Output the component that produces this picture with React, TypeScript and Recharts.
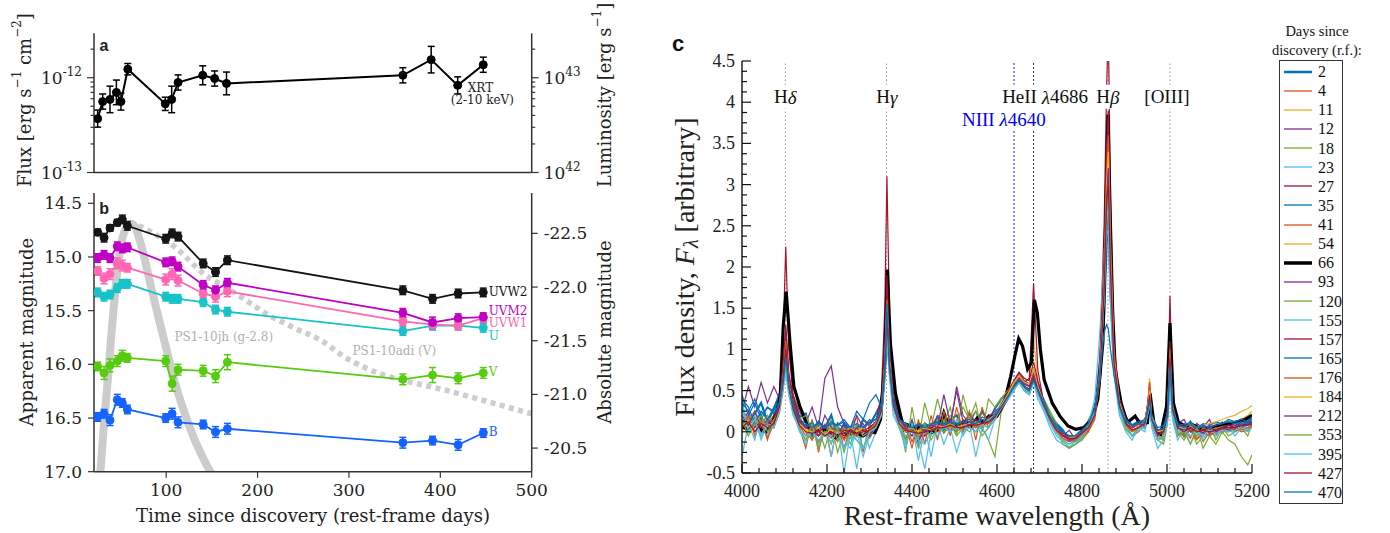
import React from 'react';
import { LineChart, Line, XAxis, YAxis, ErrorBar, ReferenceLine, ReferenceDot, Legend } from 'recharts';

// ---------------- shared styles ----------------
const AX = '#333';
const TXT = '#222';
const SERIF = '"DejaVu Serif", serif';
const TIMES = '"Liberation Serif", "Times New Roman", serif';
const SANS = '"Liberation Sans", Arial, sans-serif';

// ---------------- panel a : XRT ----------------
const xrtDays = [25, 30.5, 38.5, 45.5, 50.5, 58, 99, 106, 113, 140, 153, 166, 359, 390, 419, 447];
const xrtFlux = [3.7e-13, 5.6e-13, 5.9e-13, 7.0e-13, 5.6e-13, 1.23e-12, 5.3e-13, 5.9e-13, 8.9e-13, 1.06e-12, 9.8e-13, 8.7e-13, 1.06e-12, 1.55e-12, 8.3e-13, 1.37e-12];
const xrtErrDex = [0.09, 0.08, 0.14, 0.13, 0.09, 0.06, 0.07, 0.14, 0.08, 0.1, 0.08, 0.12, 0.08, 0.14, 0.09, 0.08];
const fluxTicks = [1e-13, 2e-13, 3e-13, 4e-13, 5e-13, 6e-13, 7e-13, 8e-13, 9e-13, 1e-12, 2e-12];
const lumTicks = [1e42, 2e42, 3e42, 4e42, 5e42, 6e42, 7e42, 8e42, 9e42, 1e43, 2e43];
const FLUX_DOMAIN = [1e-13, 2.94e-12];
const LUM_DOMAIN = [1e42, 2.94e43];

// ---------------- panel b : UV/optical ----------------
const epochs = [25, 32, 38.5, 46.5, 52, 57.5, 99.5, 106.5, 113, 140.5, 154, 167, 359, 391.5, 419.5, 447];
const UVW2 = [14.77, 14.82, 14.73, 14.68, 14.65, 14.71, 14.83, 14.78, 14.81, 15.06, 15.14, 15.03, 15.31, 15.39, 15.34, 15.33];
const UVM2 = [15.01, 14.98, 15.01, 14.9, 14.92, 14.91, 15.05, 15.04, 15.09, 15.26, 15.31, 15.24, 15.52, 15.61, 15.57, 15.56];
const UVW1 = [15.13, 15.2, 15.16, 15.06, 15.08, 15.1, 15.21, 15.16, 15.22, 15.34, 15.37, 15.32, 15.6, 15.63, 15.64, 15.57];
const Umag = [15.33, 15.37, 15.35, 15.29, 15.25, 15.25, 15.37, 15.39, 15.39, 15.42, 15.49, 15.51, 15.69, 15.64, 15.64, 15.66];
const Vmag = [16.02, 16.08, 16.01, 15.97, 15.92, 15.94, 15.97, 16.18, 16.05, 16.06, 16.11, 15.98, 16.14, 16.1, 16.13, 16.08];
const Bmag = [16.49, 16.46, 16.52, 16.33, 16.36, 16.42, 16.5, 16.46, 16.54, 16.56, 16.63, 16.6, 16.73, 16.71, 16.75, 16.64];
const UVW2e = [0.03, 0.04, 0.03, 0.03, 0.04, 0.04, 0.04, 0.04, 0.04, 0.04, 0.04, 0.04, 0.04, 0.04, 0.04, 0.04];
const UVM2e = [0.04, 0.04, 0.04, 0.04, 0.04, 0.04, 0.04, 0.04, 0.04, 0.04, 0.04, 0.04, 0.04, 0.05, 0.04, 0.04];
const UVW1e = [0.04, 0.05, 0.05, 0.05, 0.05, 0.04, 0.05, 0.05, 0.05, 0.04, 0.05, 0.05, 0.04, 0.05, 0.04, 0.04];
const Ue = [0.04, 0.04, 0.04, 0.04, 0.04, 0.04, 0.04, 0.04, 0.04, 0.04, 0.04, 0.04, 0.04, 0.04, 0.04, 0.04];
const Ve = [0.04, 0.06, 0.06, 0.05, 0.05, 0.04, 0.05, 0.07, 0.05, 0.05, 0.06, 0.07, 0.05, 0.07, 0.05, 0.05];
const Be = [0.04, 0.04, 0.05, 0.05, 0.04, 0.04, 0.04, 0.05, 0.05, 0.04, 0.05, 0.05, 0.05, 0.04, 0.05, 0.04];
// comparison light curves
const jhDay = [25, 28, 31, 34, 37, 40, 43.5, 47, 50.5, 54, 58, 62, 66, 71, 77, 84, 92, 100, 108, 118, 130, 142, 152, 160];
const jhMag = [17.35, 17.0, 16.66, 16.35, 16.05, 15.72, 15.38, 15.1, 14.89, 14.77, 14.71, 14.69, 14.72, 14.84, 15.04, 15.3, 15.58, 15.85, 16.12, 16.4, 16.68, 16.9, 17.06, 17.2];
const adiDay = [60, 70, 80, 90, 100, 110, 125, 140, 167, 190, 210, 240, 270, 295, 320, 350, 380, 410, 440, 470, 500];
const adiMag = [14.68, 14.71, 14.75, 14.8, 14.85, 14.91, 15.03, 15.15, 15.29, 15.42, 15.53, 15.66, 15.78, 15.93, 16.04, 16.13, 16.19, 16.25, 16.32, 16.39, 16.46];
const MAG_DOMAIN = [14.404, 17.0];
const magTicks = [14.5, 15.0, 15.5, 16.0, 16.5, 17.0];
const DM = 37.28; // apparent - absolute
const absTicks = [-22.5, -22.0, -21.5, -21.0, -20.5];
const dayTicks = [100, 200, 300, 400, 500];
const DAY_DOMAIN = [21, 500];

// ---------------- panel c : spectra ----------------
const WL = [4000,4015,4030,4045,4060,4075,4088,4097,4103,4110,4120,4135,4150,4165,4180,4195,4210,4225,4240,4255,4270,4285,4300,4315,4328,4336,4341,4347,4356,4370,4385,4400,4415,4430,4445,4460,4475,4490,4505,4520,4535,4550,4565,4580,4595,4610,4625,4640,4652,4664,4676,4686,4696,4710,4725,4740,4755,4770,4785,4800,4815,4830,4842,4852,4858,4862,4867,4875,4888,4903,4918,4933,4948,4955,4959,4964,4978,4992,5001,5007,5013,5025,5040,5055,5070,5085,5100,5115,5130,5145,5160,5175,5190,5200];
const s2 = [0.32,0.05,0.22,0.35,0.12,0.28,0.45,0.62,0.9,0.55, 0.4,0.18,0.22,-0.05,0.12,0.05,0.2,-0.08,0.1,0.02, -0.05,0.15,0.08,0.22,0.35,0.7,1.3,0.8,0.42,0.25, 0.02,0.12,-0.08,0.1,0.05,0.18,0.02,0.15,0.2,0.05, 0.22,0.1,0.25,0.12,0.28,0.4,0.48,0.58,0.62,0.55, 0.5,0.68,0.5,0.38,0.2,0.1,0.02,-0.1,-0.05,0.02, 0.1,0.25,0.6,1.4,2.3,2.6,1.7,0.8,0.3,0.15, 0.08,0.12,0.05,0.22,0.35,0.15,-0.05,0.08,0.18,0.7, 0.25,0.1,-0.05,0.12,0.02,0.08,-0.02,0.1,0.05,0.12, 0.02,0.15,0.1,0.18];
const s4 = [0.1,0.2,-0.05,0.15,-0.1,0.22,0.28,0.6,1.0,0.58, 0.3,0.05,-0.2,0.15,-0.25,0.1,-0.3,0.12,-0.2,0.05, 0.18,-0.25,0.1,0.0,0.22,0.8,1.4,0.85,0.3,0.05, 0.1,-0.12,0.05,-0.05,0.0,0.12,-0.02,0.1,0.0,0.15, 0.05,0.12,0.02,0.2,0.15,0.3,0.4,0.55,0.62,0.52, 0.5,0.7,0.52,0.3,0.12,0.0,-0.08,-0.12,-0.05,-0.1, 0.0,0.15,0.55,1.6,2.7,3.0,1.9,0.85,0.3,0.05, -0.05,0.0,0.1,0.2,0.48,0.1,-0.1,-0.05,0.15,0.8, 0.2,-0.05,0.05,-0.08,0.1,-0.12,0.0,-0.05,0.08,0.0, 0.05,0.0,0.02,0.08];
const s11 = [0.05,0.15,0.0,0.1,0.18,0.05,0.32,0.7,1.1,0.62, 0.28,0.12,0.0,0.05,-0.05,0.0,0.08,-0.1,0.02,-0.05, 0.05,0.02,-0.05,0.1,0.28,0.85,1.6,0.9,0.38,0.12, 0.0,0.05,-0.05,0.02,0.08,0.0,0.12,0.05,0.02,0.1, 0.08,0.15,0.05,0.12,0.25,0.3,0.5,0.62,0.7,0.65, 0.62,1.15,0.62,0.35,0.18,0.05,-0.05,-0.08,-0.1,-0.02, 0.05,0.22,0.7,1.8,3.0,3.4,2.2,0.95,0.4,0.15, 0.05,0.1,0.12,0.28,0.45,0.2,0.02,-0.05,0.22,0.9, 0.32,0.05,0.02,0.08,0.0,0.05,0.02,0.1,0.05,0.12, 0.1,0.15,0.18,0.22];
const s12 = [0.25,0.55,0.3,0.6,0.35,0.55,0.4,0.75,1.25,0.7, 0.45,0.25,0.1,0.3,0.05,0.65,0.8,0.3,0.1,-0.05, 0.2,0.05,0.15,0.1,0.3,0.75,1.5,0.9,0.45,0.2, -0.1,0.15,-0.15,0.1,0.0,0.2,0.15,0.05,0.55,0.2, 0.1,0.25,0.05,0.2,0.15,0.35,0.4,0.62,0.7,0.55, 0.5,0.75,0.58,0.3,0.15,0.05,-0.05,0.02,-0.1,0.0, 0.1,0.25,0.7,1.7,2.9,3.3,2.0,0.9,0.4,0.2, 0.05,0.15,0.05,0.3,0.4,0.15,-0.05,0.05,0.2,0.9, 0.3,0.1,0.15,0.0,0.1,0.05,0.15,-0.02,0.12,0.05, 0.1,0.05,0.15,0.1];
const s18 = [0.0,0.2,0.1,-0.05,0.15,0.05,0.22,0.5,0.8,0.5, 0.42,0.3,0.1,-0.1,0.05,-0.2,0.1,-0.25,0.0,-0.15, 0.05,-0.2,-0.05,0.05,0.2,0.65,1.2,0.7,0.3,0.1, -0.1,0.05,-0.2,0.0,-0.05,0.15,0.05,0.2,0.1,0.3, 0.15,0.25,0.05,-0.1,-0.3,0.25,0.4,0.55,0.65,0.5, 0.45,0.6,0.45,0.4,0.25,0.1,-0.1,-0.2,-0.15,-0.05, 0.15,0.3,0.6,1.5,2.4,2.8,1.8,0.8,0.25,0.1, -0.05,0.05,0.15,0.25,0.35,0.1,-0.1,-0.15,0.1,0.7, 0.2,0.0,-0.1,0.05,-0.15,-0.05,0.1,-0.1,0.05,-0.05, 0.0,0.05,-0.05,0.1];
const s23 = [-0.3,0.1,-0.1,0.2,-0.05,0.15,0.25,0.55,0.7,0.45, 0.2,0.05,-0.15,0.1,-0.2,0.05,-0.3,0.1,-0.5,0.0, -0.45,0.05,-0.2,0.0,0.15,0.6,1.1,0.65,0.2,0.05, -0.15,0.1,-0.1,-0.45,0.0,-0.05,0.1,0.0,0.15,-0.05, 0.1,0.0,0.15,0.05,0.2,0.28,0.38,0.5,0.6,0.5, 0.45,0.6,0.4,0.25,0.05,-0.1,-0.15,-0.2,-0.1,-0.05, 0.1,0.35,0.9,1.8,2.5,2.5,1.6,0.7,0.2,0.0, -0.1,0.05,0.0,0.2,0.3,0.05,-0.2,-0.1,0.1,0.6, 0.15,-0.1,0.05,-0.15,0.0,-0.1,0.05,-0.05,0.0,0.05, -0.05,0.05,0.0,0.05];
const s27 = [0.1,0.05,0.15,0.0,0.1,0.12,0.4,1.2,2.25,1.0, 0.45,0.18,0.05,0.0,-0.05,0.05,-0.05,0.0,-0.08,0.05, 0.0,-0.05,0.05,0.12,0.45,1.5,3.1,1.4,0.55,0.2, 0.05,0.0,0.05,-0.05,0.05,0.0,0.1,0.05,0.0,0.08, 0.05,0.1,0.08,0.12,0.15,0.25,0.4,0.55,0.62,0.6, 0.65,1.8,0.75,0.35,0.15,0.05,-0.05,-0.05,-0.08,0.0, 0.05,0.25,0.9,2.5,4.2,4.9,2.8,1.1,0.4,0.12, 0.05,0.08,0.12,0.35,0.6,0.2,0.0,-0.02,0.3,1.65, 0.35,0.05,0.0,0.05,0.0,-0.02,0.02,0.0,0.03,0.05, 0.02,0.05,0.08,0.1];
const s35 = [0.45,0.2,0.35,0.15,0.3,0.25,0.4,0.75,1.0,0.62, 0.35,0.1,0.05,0.12,0.0,0.08,0.02,0.1,0.05,0.0, 0.08,0.02,0.12,0.15,0.3,0.8,1.5,0.85,0.4,0.15, 0.08,0.02,0.05,0.1,0.02,0.08,0.12,0.05,0.1,0.08, 0.12,0.05,0.15,0.1,0.18,0.3,0.45,0.6,0.68,0.6, 0.55,0.72,0.55,0.35,0.18,0.05,-0.02,-0.1,-0.12,-0.05, 0.02,0.2,0.65,1.7,2.9,3.2,2.1,0.9,0.35,0.12, 0.05,0.08,0.1,0.25,0.42,0.18,0.0,0.02,0.2,0.8, 0.3,0.05,0.02,0.05,0.0,-0.02,0.05,0.02,0.05,0.08, 0.05,0.1,0.08,0.12];
const s41 = [0.12,0.0,0.18,0.05,0.1,0.2,0.3,0.7,1.1,0.62, 0.3,0.12,0.0,-0.1,0.05,-0.05,0.0,-0.12,0.02,-0.05, 0.0,0.05,-0.08,0.05,0.25,0.85,1.6,0.9,0.35,0.1, 0.0,-0.05,0.05,-0.02,0.02,0.08,0.0,0.05,0.02,0.05, 0.1,0.05,0.12,0.1,0.2,0.35,0.45,0.6,0.68,0.58, 0.55,0.72,0.55,0.35,0.15,0.02,-0.05,-0.1,-0.08,-0.05, 0.02,0.2,0.7,1.8,3.1,3.5,2.2,0.95,0.35,0.1, 0.02,0.05,0.1,0.3,0.5,0.15,-0.05,-0.1,0.18,0.9, 0.3,0.0,-0.05,0.05,-0.08,0.0,-0.05,0.02,0.0,0.05, 0.0,0.05,0.02,0.08];
const s54 = [0.2,0.1,0.05,0.12,0.02,0.1,0.28,0.68,1.1,0.6, 0.32,0.1,0.05,-0.02,0.05,-0.05,0.02,-0.05,0.05,-0.02, 0.02,0.05,0.0,0.08,0.28,0.9,1.7,0.95,0.38,0.12, 0.05,0.0,0.02,0.0,0.05,0.05,0.1,0.05,0.08,0.05, 0.1,0.08,0.15,0.12,0.22,0.35,0.48,0.62,0.7,0.62, 0.58,0.78,0.58,0.35,0.18,0.05,-0.02,-0.05,-0.08,-0.02, 0.05,0.22,0.72,1.85,3.2,3.6,2.3,1.0,0.38,0.12, 0.05,0.08,0.12,0.35,0.65,0.2,-0.05,-0.02,0.22,1.0, 0.35,0.05,0.0,0.05,0.02,0.0,0.05,0.02,0.08,0.1, 0.12,0.15,0.2,0.25];
const s93 = [0.1,0.25,0.05,0.18,0.08,0.15,0.35,0.75,1.2,0.68, 0.35,0.15,0.05,0.1,0.0,0.08,-0.05,0.05,-0.02,0.02, 0.05,-0.05,0.05,0.1,0.3,0.9,1.7,0.95,0.4,0.12, 0.02,0.05,-0.1,0.0,0.05,0.1,0.05,0.12,0.1,0.05, 0.12,0.08,0.15,0.12,0.2,0.32,0.48,0.62,0.72,0.62, 0.58,0.75,0.58,0.38,0.18,0.05,0.0,-0.08,-0.05,0.0, 0.08,0.25,0.75,1.9,3.3,3.7,2.35,1.0,0.4,0.15, 0.05,0.1,0.15,0.3,0.48,0.18,0.0,0.05,0.22,1.0, 0.32,0.08,0.05,0.1,0.02,0.08,0.0,0.05,0.02,0.08, 0.05,0.1,0.08,0.12];
const s120 = [0.05,0.15,0.25,0.1,0.2,0.05,0.3,0.68,1.1,0.6, 0.38,0.15,0.2,0.0,0.1,-0.05,0.15,-0.1,0.05,-0.08, 0.1,-0.05,0.0,0.12,0.25,0.85,1.6,0.9,0.35,0.15, -0.25,0.3,-0.1,0.35,0.05,0.4,0.1,0.3,-0.05,0.45, 0.15,0.35,0.0,0.4,0.3,0.4,0.5,0.6,0.65,0.55, 0.52,0.7,0.5,0.4,0.2,0.05,-0.1,-0.15,-0.1,0.0, 0.1,0.25,0.7,1.8,3.1,3.5,2.2,0.9,0.35,0.1, 0.0,0.05,0.15,0.28,0.4,0.12,-0.05,-0.1,0.18,0.9, 0.25,0.05,-0.05,0.08,-0.05,0.05,0.0,0.05,-0.02,0.05, 0.0,0.08,0.02,0.1];
const s155 = [0.35,0.05,0.2,-0.05,0.15,0.1,0.32,0.65,1.0,0.55, 0.25,0.0,-0.1,0.05,-0.15,0.0,-0.05,0.05,-0.1,-0.2, 0.0,-0.3,-0.05,0.05,0.22,0.8,1.5,0.85,0.3,0.05, -0.2,0.1,-0.35,0.05,-0.3,0.1,-0.15,0.05,-0.25,0.0, 0.1,-0.3,0.05,-0.1,0.15,0.3,0.42,0.55,0.62,0.52, 0.48,0.65,0.48,0.3,0.1,-0.05,-0.12,-0.18,-0.15,-0.08, 0.08,0.4,1.2,2.2,2.45,2.4,1.7,0.8,0.3,0.05, -0.05,0.05,0.08,0.22,0.35,0.1,-0.1,-0.05,0.15,0.8, 0.22,0.0,0.05,-0.05,0.02,-0.05,0.05,0.0,0.05,0.02, 0.05,0.08,0.05,0.1];
const s157 = [0.15,0.08,0.12,0.05,0.1,0.15,0.35,0.85,1.3,0.7, 0.38,0.15,0.05,0.02,0.0,0.05,-0.02,0.02,-0.05,0.02, 0.0,0.02,0.05,0.1,0.35,1.0,1.9,1.05,0.42,0.15, 0.05,0.02,0.0,0.02,0.05,0.05,0.1,0.08,0.05,0.1, 0.08,0.12,0.1,0.15,0.2,0.32,0.48,0.62,0.72,0.65, 0.62,0.85,0.62,0.38,0.18,0.05,-0.02,-0.05,-0.05,0.0, 0.05,0.25,0.8,2.1,3.5,3.9,2.5,1.05,0.4,0.12, 0.05,0.08,0.12,0.35,0.55,0.2,0.0,0.0,0.25,1.1, 0.35,0.05,0.02,0.05,0.0,0.02,0.05,0.02,0.05,0.08, 0.05,0.08,0.1,0.12];
const s165 = [0.4,0.3,0.1,0.25,0.15,0.3,0.35,0.65,1.0,0.58, 0.3,0.12,0.08,0.05,0.1,0.05,0.12,0.08,0.15,0.05, 0.25,0.15,0.35,0.45,0.3,0.8,1.5,0.85,0.38,0.15, 0.1,0.05,0.1,0.05,0.08,0.12,0.08,0.15,0.1,0.12, 0.15,0.1,0.18,0.15,0.22,0.32,0.45,0.6,0.68,0.6, 0.55,0.7,0.55,0.38,0.2,0.08,0.0,-0.05,-0.05,0.02, 0.1,0.28,0.75,1.75,2.95,3.3,2.1,0.9,0.35,0.15, 0.08,0.12,0.15,0.28,0.45,0.2,0.05,0.08,0.22,0.9, 0.3,0.1,0.08,0.12,0.05,0.1,0.08,0.12,0.1,0.15, 0.12,0.15,0.12,0.18];
const s176 = [0.08,0.18,0.0,0.12,-0.08,0.1,0.3,0.7,1.1,0.6, 0.3,0.08,-0.05,0.05,-0.12,0.0,-0.08,0.05,-0.1,0.0, -0.05,0.05,-0.02,0.08,0.25,0.85,1.6,0.9,0.35,0.1, 0.1,-0.2,0.15,-0.15,0.2,-0.1,0.25,-0.05,0.3,0.0, 0.25,-0.1,0.3,0.05,0.2,0.32,0.45,0.6,0.68,0.58, 0.55,0.72,0.52,0.32,0.15,0.02,-0.08,-0.12,-0.1,-0.05, 0.0,0.2,0.7,1.85,3.2,3.6,2.25,0.95,0.35,0.08, 0.0,0.05,0.12,0.35,0.6,0.15,-0.1,-0.05,0.2,1.0, 0.3,0.0,-0.05,0.02,-0.1,0.0,-0.05,0.0,0.02,0.0, 0.05,0.02,0.05,0.08];
const s184 = [0.1,0.05,0.15,0.08,0.05,0.12,0.28,0.65,1.0,0.58, 0.28,0.1,0.02,0.0,0.05,-0.05,0.05,-0.02,0.0,0.05, 0.0,0.05,0.02,0.1,0.25,0.8,1.5,0.85,0.35,0.12, 0.02,0.05,0.0,0.05,0.02,0.08,0.05,0.1,0.05,0.08, 0.1,0.12,0.08,0.15,0.2,0.32,0.45,0.6,0.68,0.6, 0.58,0.75,0.55,0.35,0.15,0.05,-0.05,-0.08,-0.05,0.0, 0.05,0.22,0.7,1.75,3.0,3.4,2.15,0.92,0.35,0.12, 0.05,0.08,0.12,0.3,0.5,0.18,0.0,0.02,0.2,0.9, 0.3,0.05,0.05,0.1,0.05,0.08,0.1,0.12,0.15,0.18, 0.2,0.25,0.28,0.32];
const s212 = [0.2,0.08,0.25,0.05,0.15,0.1,0.3,0.65,1.0,0.55, 0.3,0.12,0.05,0.1,-0.05,0.2,0.05,0.0,0.08,-0.05, 0.05,0.1,-0.05,0.08,0.25,0.75,1.4,0.8,0.35,0.15, 0.05,-0.05,0.1,0.0,0.08,0.05,0.45,0.1,0.5,0.12, 0.08,0.15,0.1,0.18,0.25,0.3,0.42,0.55,0.65,0.58, 0.55,0.7,0.52,0.35,0.18,0.05,-0.05,-0.1,-0.08,0.0, 0.05,0.2,0.65,1.65,2.85,3.2,2.0,0.85,0.32,0.1, 0.05,0.1,0.08,0.25,0.42,0.15,-0.05,0.0,0.18,0.85, 0.28,0.05,0.1,0.0,0.05,-0.02,0.08,0.0,0.05,0.02, 0.08,0.05,0.1,0.08];
const s353 = [0.15,-0.05,0.1,0.2,0.0,0.15,0.25,0.6,0.9,0.5, 0.3,0.05,-0.1,0.1,-0.2,0.0,-0.15,0.05,-0.25,0.0, -0.1,-0.2,0.0,0.05,0.2,0.7,1.3,0.75,0.3,0.05, -0.1,0.05,-0.05,0.1,-0.1,0.05,0.0,0.1,-0.05,0.05, 0.0,0.1,-0.05,0.05,0.15,0.3,0.42,0.52,0.6,0.5, 0.48,0.62,0.48,0.35,0.2,0.05,-0.15,-0.2,-0.15,-0.1, 0.05,0.2,0.62,1.6,2.7,3.0,1.9,0.8,0.3,0.05, -0.05,0.05,0.1,0.25,0.4,0.1,-0.1,-0.05,0.15,0.8, 0.2,-0.05,0.0,-0.15,0.05,-0.2,-0.05,-0.15,0.0,-0.1, -0.15,-0.3,-0.4,-0.28];
const s395 = [0.3,0.0,0.15,-0.1,0.1,0.05,0.25,0.6,0.9,0.5, 0.25,0.02,-0.05,0.0,-0.1,-0.02,-0.12,0.0,-0.2,-0.05, -0.1,-0.2,0.0,0.05,0.2,0.7,1.3,0.75,0.28,0.05, -0.05,0.0,-0.1,-0.15,0.0,-0.05,0.05,0.0,0.05,-0.02, 0.05,0.0,0.08,0.05,0.15,0.28,0.4,0.52,0.6,0.5, 0.45,0.62,0.45,0.28,0.1,-0.02,-0.1,-0.15,-0.12,-0.05, 0.05,0.25,0.7,1.6,2.5,2.8,1.8,0.75,0.25,0.02, -0.05,0.02,0.05,0.22,0.38,0.08,-0.1,-0.08,0.12,0.8, 0.2,-0.02,0.02,-0.05,0.0,-0.05,0.02,-0.02,0.02,0.0, 0.02,0.05,0.02,0.05];
const s427 = [0.05,0.12,0.0,0.1,0.05,0.1,0.3,0.65,1.0,0.55, 0.28,0.08,0.0,-0.02,0.02,-0.05,0.0,-0.05,0.02,0.0, -0.02,0.0,0.02,0.08,0.25,0.75,1.4,0.8,0.32,0.1, 0.02,0.0,-0.02,0.0,0.02,0.05,0.05,0.08,0.05,0.05, 0.08,0.08,0.1,0.12,0.18,0.3,0.42,0.55,0.62,0.55, 0.52,0.65,0.5,0.32,0.15,0.02,-0.05,-0.08,-0.08,-0.02, 0.05,0.2,0.65,1.7,2.8,3.0,1.95,0.85,0.32,0.1, 0.02,0.05,0.1,0.28,0.45,0.15,-0.02,0.0,0.2,0.9, 0.28,0.05,0.0,0.05,0.0,0.02,0.0,0.02,0.05,0.05, 0.05,0.08,0.08,0.1];
const s470 = [0.35,0.25,0.4,0.2,0.3,0.22,0.35,0.6,0.9,0.55, 0.32,0.15,0.1,0.05,0.12,0.05,0.1,0.08,0.12,0.05, 0.1,0.05,0.12,0.15,0.3,0.75,1.55,0.8,0.35,0.15, 0.08,0.05,0.08,0.05,0.1,0.12,0.1,0.12,0.08,0.12, 0.12,0.1,0.15,0.12,0.2,0.3,0.42,0.55,0.62,0.55, 0.5,0.62,0.5,0.35,0.18,0.05,0.0,-0.05,-0.05,0.02, 0.1,0.28,0.7,1.2,1.3,1.25,1.0,0.7,0.3,0.12, 0.08,0.1,0.12,0.25,0.38,0.15,0.02,0.05,0.2,0.8, 0.25,0.08,0.05,0.1,0.05,0.08,0.05,0.08,0.1,0.12, 0.1,0.12,0.1,0.15];
// day-66 spectrum (black, own wavelength sampling)
const bw = [4000,4011,4023,4034,4048,4057,4071,4081,4090,4097,4104,4113,4122,4136,4155,4169,4183,4201,4220,4238,4248,4266,4285,4299,4313,4326,4336,4342,4349,4361,4377,4396,4410,4419,4433,4452,4466,4475,4484,4503,4526,4540,4554,4568,4581,4600,4619,4632,4642,4651,4660,4672,4681,4688,4695,4702,4711,4730,4748,4767,4785,4804,4823,4837,4849,4856,4861,4866,4872,4878,4892,4906,4925,4938,4954,4960,4971,4985,4999,5007,5015,5027,5045,5059,5082,5105,5129,5156,5184,5200];
const bf = [0.07,0.03,0.08,0.13,0.01,0.0,0.11,0.23,0.43,1.28,1.7,1.08,0.55,0.31,0.07,-0.01,0.03,0.01,-0.07,0.01,-0.03,-0.01,-0.05,0.01,-0.01,0.15,0.88,1.97,1.08,0.47,0.11,0.07,0.03,0.08,0.01,-0.01,0.07,0.23,0.11,0.07,0.13,0.07,0.17,0.11,0.19,0.19,0.39,0.67,0.92,1.13,1.04,0.76,0.84,1.6,1.44,1.0,0.63,0.35,0.19,0.07,0.03,0.05,0.15,0.39,1.08,2.6,3.85,2.7,1.48,0.76,0.35,0.11,0.19,0.09,0.11,0.47,0.03,-0.03,0.31,1.32,0.35,0.11,0.07,0.09,0.03,0.05,0.09,0.11,0.15,0.2];

const C_BLUE = '#0072BD', C_ORANGE = '#D95319', C_YELLOW = '#EDB120', C_PURPLE = '#7E2F8E', C_GREEN = '#77AC30', C_LBLUE = '#4DBEEE', C_RED = '#A2142F';
const SPEC = [
  { day: '2', color: C_BLUE, w: 2.2, values: s2 },
  { day: '4', color: C_ORANGE, w: 1.2, values: s4 },
  { day: '11', color: C_YELLOW, w: 1.2, values: s11 },
  { day: '12', color: C_PURPLE, w: 1.2, values: s12 },
  { day: '18', color: C_GREEN, w: 1.2, values: s18 },
  { day: '23', color: C_LBLUE, w: 1.2, values: s23 },
  { day: '27', color: C_RED, w: 1.2, values: s27 },
  { day: '35', color: C_BLUE, w: 1.2, values: s35 },
  { day: '41', color: C_ORANGE, w: 1.2, values: s41 },
  { day: '54', color: C_YELLOW, w: 1.2, values: s54 },
  { day: '66', color: '#000000', w: 3.2, values: null },
  { day: '93', color: C_PURPLE, w: 1.2, values: s93 },
  { day: '120', color: C_GREEN, w: 1.2, values: s120 },
  { day: '155', color: C_LBLUE, w: 1.2, values: s155 },
  { day: '157', color: C_RED, w: 1.2, values: s157 },
  { day: '165', color: C_BLUE, w: 1.2, values: s165 },
  { day: '176', color: C_ORANGE, w: 1.2, values: s176 },
  { day: '184', color: C_YELLOW, w: 1.2, values: s184 },
  { day: '212', color: C_PURPLE, w: 1.2, values: s212 },
  { day: '353', color: C_GREEN, w: 1.2, values: s353 },
  { day: '395', color: C_LBLUE, w: 1.2, values: s395 },
  { day: '427', color: C_RED, w: 1.2, values: s427 },
  { day: '470', color: C_BLUE, w: 1.2, values: s470 },
];
const LINE_MARKS = [
  { wl: 4102, color: '#9a9a9a', dash: '1.5 2.5' },
  { wl: 4340, color: '#9a9a9a', dash: '1.5 2.5' },
  { wl: 4640, color: '#1a1aff', dash: '2 2' },
  { wl: 4686, color: '#333333', dash: '2 2' },
  { wl: 4861, color: '#9a9a9a', dash: '1.5 2.5' },
  { wl: 5007, color: '#9a9a9a', dash: '1.5 2.5' },
];
const WL_DOMAIN = [4000, 5200];
const F_DOMAIN = [-0.5, 4.5];
const wlTicks = Array.from({ length: 31 }, (_, i) => 4000 + 40 * i);
const fTicks = Array.from({ length: 41 }, (_, i) => -0.5 + 0.125 * i);

// ---------------- tables ----------------
const xrtRows = xrtDays.map((d, i) => {
  const v = xrtFlux[i];
  const k = Math.pow(10, xrtErrDex[i]);
  return { day: d, flux: v, err: [v - v / k, v * k - v] };
});
const bandRows = epochs.map((d, i) => ({
  day: d,
  uvw2: UVW2[i], uvw2e: UVW2e[i],
  uvm2: UVM2[i], uvm2e: UVM2e[i],
  uvw1: UVW1[i], uvw1e: UVW1e[i],
  u: Umag[i], ue: Ue[i],
  v: Vmag[i], ve: Ve[i],
  b: Bmag[i], be: Be[i],
}));
const jhRows = jhDay.map((d, i) => ({ day: d, m: jhMag[i] }));
const adiRows = adiDay.map((d, i) => ({ day: d, m: adiMag[i] }));
const BANDS = [
  { key: 'b', err: 'be', name: 'B', color: '#1463ff', labelMag: 16.63 },
  { key: 'v', err: 've', name: 'V', color: '#55cc0e', labelMag: 16.07 },
  { key: 'u', err: 'ue', name: 'U', color: '#17c2c8', labelMag: 15.74 },
  { key: 'uvw1', err: 'uvw1e', name: 'UVW1', color: '#ff66b3', labelMag: 15.615 },
  { key: 'uvm2', err: 'uvm2e', name: 'UVM2', color: '#c000c4', labelMag: 15.5 },
  { key: 'uvw2', err: 'uvw2e', name: 'UVW2', color: '#151515', labelMag: 15.325 },
];
const specRows = WL.map((wl, i) => {
  const r: any = { wl };
  SPEC.forEach((s) => { if (s.values) r['d' + s.day] = s.values[i]; });
  return r;
});
const blackRows = bw.map((wl, i) => ({ wl, f: bf[i] }));

// ---------------- helpers ----------------
const isDecade = (v: number) => { const e = Math.log10(v); return Math.abs(e - Math.round(e)) < 1e-6; };
const logTick = (side: string) => (p: any) => {
  const { x, y, payload } = p;
  const v = payload.value;
  const major = isDecade(v);
  const len = major ? 7 : 3.5;
  const d = side === 'left' ? -1 : 1;
  const e = Math.round(Math.log10(v));
  return (
    <g>
      <line x1={x} x2={x + d * len} y1={y} y2={y} stroke={AX} strokeWidth={1.2} />
      {major && (
        <text x={x + d * (len + 5)} y={y + 6} textAnchor={side === 'left' ? 'end' : 'start'} fill={TXT} fontFamily={SERIF} fontSize={17}>
          10<tspan dy={-8} fontSize={12}>{String(e)}</tspan>
        </text>
      )}
    </g>
  );
};
const cTick = (side: string) => (p: any) => {
  const { x, y, payload } = p;
  const v = payload.value;
  if (side === 'bottom' || side === 'top') {
    const major = Math.abs((v - 4000) % 200) < 1e-6;
    const len = major ? 9 : 5;
    const d = side === 'bottom' ? -1 : 1;
    return (
      <g>
        <line x1={x} x2={x} y1={y} y2={y + d * len} stroke="#111" strokeWidth={1.2} />
        {side === 'bottom' && major && (
          <text x={x} y={y + 24} textAnchor="middle" fill={TXT} fontFamily={TIMES} fontSize={18}>{String(v)}</text>
        )}
      </g>
    );
  }
  const major = Math.abs(v * 2 - Math.round(v * 2)) < 1e-6;
  const len = major ? 9 : 5;
  const d = side === 'left' ? 1 : -1;
  return (
    <g>
      <line x1={x} x2={x + d * len} y1={y} y2={y} stroke="#111" strokeWidth={1.2} />
      {side === 'left' && major && (
        <text x={x - 7} y={y + 6} textAnchor="end" fill={TXT} fontFamily={TIMES} fontSize={18}>{String(Math.round(v * 10) / 10)}</text>
      )}
    </g>
  );
};
const vTitle = (x: number, y: number, children: any, font: string, size: number) => (
  <text x={x} y={y} transform={`rotate(-90 ${x} ${y})`} textAnchor="middle" dominantBaseline="central" fill={TXT} fontFamily={font} fontSize={size}>
    {children}
  </text>
);
const textShape = (content: any, opts: any) => (p: any) => (
  <text x={p.cx} y={p.cy} textAnchor={opts.anchor || 'middle'} dominantBaseline="central" fill={opts.color || TXT} fontFamily={opts.font || SERIF} fontSize={opts.size || 12} fontWeight={opts.weight || 'normal'}>
    {content}
  </text>
);
const boxLabel = (content: any, w: number, color: string) => (p: any) => (
  <g>
    <rect x={p.cx - w / 2} y={p.cy - 12} width={w} height={24} fill="#ffffff" />
    <text x={p.cx} y={p.cy} textAnchor="middle" dominantBaseline="central" fill={color} fontFamily={TIMES} fontSize={19}>{content}</text>
  </g>
);
const it = (s: string) => <tspan fontStyle="italic">{s}</tspan>;

// ---------------- panels ----------------
function PanelA() {
  return (
    <LineChart width={640} height={195} data={xrtRows} margin={{ top: 33.3, right: 38.3, bottom: 12.5, left: 24 }}>
      <XAxis type="number" dataKey="day" domain={DAY_DOMAIN} allowDataOverflow ticks={dayTicks} interval={0} tick={false} height={10} tickSize={6}
        axisLine={{ stroke: AX, strokeWidth: 1.5 }} tickLine={{ stroke: AX, strokeWidth: 1.2 }} />
      <XAxis xAxisId="top" orientation="top" type="number" dataKey="day" domain={DAY_DOMAIN} allowDataOverflow ticks={dayTicks} interval={0} tick={false} height={0} tickSize={6}
        axisLine={{ stroke: AX, strokeWidth: 1.5 }} tickLine={{ stroke: AX, strokeWidth: 1.2 }} />
      <YAxis type="number" scale="log" domain={FLUX_DOMAIN} allowDataOverflow ticks={fluxTicks} interval={0} width={70}
        tickLine={false} tickSize={0} tickMargin={0} tick={logTick('left')} axisLine={{ stroke: AX, strokeWidth: 1.5 }}
        label={{ content: () => vTitle(24, 100, <>Flux [erg s<tspan dy={-7} fontSize={12}>−1</tspan><tspan dy={7}> cm</tspan><tspan dy={-7} fontSize={12}>−2</tspan><tspan dy={7}>]</tspan></>, SERIF, 18) }} />
      <YAxis yAxisId="lum" orientation="right" type="number" scale="log" domain={LUM_DOMAIN} allowDataOverflow ticks={lumTicks} interval={0} width={70}
        tickLine={false} tickSize={0} tickMargin={0} tick={logTick('right')} axisLine={{ stroke: AX, strokeWidth: 1.5 }}
        label={{ content: () => vTitle(604, 95, <>Luminosity [erg s<tspan dy={-7} fontSize={12}>−1</tspan><tspan dy={7}>]</tspan></>, SERIF, 18) }} />
      <Line dataKey="flux" stroke="#000" strokeWidth={2} dot={{ r: 4, fill: '#000', stroke: '#000', strokeWidth: 1 }} activeDot={false} isAnimationActive={false}>
        <ErrorBar dataKey="err" width={3.5} strokeWidth={1.5} stroke="#000" direction="y" />
      </Line>
      <ReferenceDot x={32} y={2.16e-12} r={0} shape={textShape('a', { font: SANS, size: 16, weight: 'bold', color: '#222' })} />
      <ReferenceDot x={444} y={7.8e-13} r={0} shape={textShape('XRT', { size: 12 })} />
      <ReferenceDot x={446} y={5.75e-13} r={0} shape={textShape('(2-10 keV)', { size: 12 })} />
    </LineChart>
  );
}

function PanelB() {
  return (
    <LineChart width={640} height={353} data={bandRows} margin={{ top: 13, right: 38.3, bottom: 21.3, left: 24 }}>
      <XAxis type="number" dataKey="day" domain={DAY_DOMAIN} allowDataOverflow ticks={dayTicks} interval={0} height={40} tickSize={6} tickMargin={6}
        axisLine={{ stroke: AX, strokeWidth: 1.5 }} tickLine={{ stroke: AX, strokeWidth: 1.2 }}
        tick={{ fill: TXT, fontSize: 17, fontFamily: SERIF }}
        label={{ content: () => (<text x={313} y={335} textAnchor="middle" dominantBaseline="central" fill={TXT} fontFamily={SERIF} fontSize={18}>Time since discovery (rest-frame days)</text>) }} />
      <XAxis xAxisId="top" orientation="top" type="number" dataKey="day" domain={DAY_DOMAIN} allowDataOverflow ticks={dayTicks} interval={0} tick={false} height={0} tickSize={6}
        axisLine={{ stroke: AX, strokeWidth: 1.5 }} tickLine={{ stroke: AX, strokeWidth: 1.2 }} />
      <YAxis type="number" reversed domain={MAG_DOMAIN} allowDataOverflow ticks={magTicks} interval={0} width={70} tickSize={6} tickMargin={6}
        tickFormatter={(v: number) => v.toFixed(1)} axisLine={{ stroke: AX, strokeWidth: 1.5 }} tickLine={{ stroke: AX, strokeWidth: 1.2 }}
        tick={{ fill: TXT, fontSize: 17, fontFamily: SERIF }}
        label={{ content: () => vTitle(26, 152, 'Apparent magnitude', SERIF, 18) }} />
      <YAxis yAxisId="abs" orientation="right" type="number" reversed domain={[MAG_DOMAIN[0] - DM, MAG_DOMAIN[1] - DM]} allowDataOverflow ticks={absTicks} interval={0} width={70} tickSize={6} tickMargin={6}
        tickFormatter={(v: number) => v.toFixed(1)} axisLine={{ stroke: AX, strokeWidth: 1.5 }} tickLine={{ stroke: AX, strokeWidth: 1.2 }}
        tick={{ fill: TXT, fontSize: 17, fontFamily: SERIF }}
        label={{ content: () => vTitle(604, 152, 'Absolute magnitude', SERIF, 18) }} />
      <Line data={jhRows} dataKey="m" stroke="#cccccc" strokeWidth={8} dot={false} activeDot={false} isAnimationActive={false} type="monotone" />
      <Line data={adiRows} dataKey="m" stroke="#cdcdcd" strokeWidth={5.5} strokeDasharray="5 4.5" dot={false} activeDot={false} isAnimationActive={false} type="monotone" />
      {BANDS.map((b) => (
        <Line key={b.key} dataKey={b.key} name={b.name} stroke={b.color} strokeWidth={1.8}
          dot={{ r: 4, fill: b.color, stroke: b.color, strokeWidth: 1 }} activeDot={false} isAnimationActive={false}>
          <ErrorBar dataKey={b.err} width={3.5} strokeWidth={1.5} stroke={b.color} direction="y" />
        </Line>
      ))}
      {BANDS.map((b) => (
        <ReferenceDot key={'l' + b.key} x={453} y={b.labelMag} r={0} shape={textShape(b.name, { anchor: 'start', color: b.color, size: 12 })} />
      ))}
      <ReferenceDot x={163} y={15.746} r={0} shape={textShape('PS1-10jh (g-2.8)', { color: '#b0b0b0', size: 12 })} />
      <ReferenceDot x={349.6} y={15.876} r={0} shape={textShape('PS1-10adi (V)', { color: '#b0b0b0', size: 12 })} />
      <ReferenceDot x={32} y={14.553} r={0} shape={textShape('b', { font: SANS, size: 16, weight: 'bold', color: '#222' })} />
    </LineChart>
  );
}

const renderLegend = () => (
  <div style={{ width: 110, fontFamily: TIMES, color: '#111' }}>
    <div style={{ textAlign: 'center', fontSize: 14.5, lineHeight: '19px' }}>Days since<br />discovery (r.f.):</div>
    <div style={{ marginLeft: 17, width: 62, border: '1.5px solid #333', padding: '1px 0', background: '#fff' }}>
      {SPEC.map((s) => (
        <div key={s.day} style={{ display: 'flex', alignItems: 'center', height: 19.14 }}>
          <svg width={36} height={10} style={{ display: 'block' }}>
            <line x1={4} x2={32} y1={5} y2={5} stroke={s.color} strokeWidth={s.day === '66' ? 3.5 : s.day === '2' ? 2.5 : 1.3} />
          </svg>
          <span style={{ fontSize: 16, lineHeight: '19px', marginLeft: 2 }}>{s.day}</span>
        </div>
      ))}
    </div>
  </div>
);

const C_MARGIN = { top: 61, right: 138, bottom: 10, left: 32 };

function PanelC() {
  return (
    <LineChart width={750} height={533} data={specRows} margin={C_MARGIN}>
      <XAxis type="number" dataKey="wl" domain={WL_DOMAIN} allowDataOverflow ticks={wlTicks} interval={0} height={50}
        tickLine={false} tickSize={0} tickMargin={0} tick={cTick('bottom')} axisLine={{ stroke: '#111', strokeWidth: 1.4 }}
        label={{ content: () => (<text x={357} y={515} textAnchor="middle" dominantBaseline="central" fill={TXT} fontFamily={TIMES} fontSize={28}>Rest-frame wavelength (Å)</text>) }} />
      <XAxis xAxisId="top" orientation="top" type="number" dataKey="wl" domain={WL_DOMAIN} allowDataOverflow ticks={wlTicks} interval={0} height={0}
        tickLine={false} tickSize={0} tickMargin={0} tick={cTick('top')} axisLine={{ stroke: '#111', strokeWidth: 1.4 }} />
      <YAxis type="number" domain={F_DOMAIN} allowDataOverflow ticks={fTicks} interval={0} width={70}
        tickLine={false} tickSize={0} tickMargin={0} tick={cTick('left')} axisLine={{ stroke: '#111', strokeWidth: 1.4 }}
        label={{ content: () => vTitle(44, 267, <>Flux density, {it('F')}<tspan dy={7} fontSize={20} fontStyle="italic">λ</tspan><tspan dy={-7}> [arbitrary]</tspan></>, TIMES, 28) }} />
      <YAxis yAxisId="right" orientation="right" type="number" domain={F_DOMAIN} allowDataOverflow ticks={fTicks} interval={0} width={0}
        tickLine={false} tickSize={0} tickMargin={0} tick={cTick('right')} axisLine={{ stroke: '#111', strokeWidth: 1.4 }} />
      {LINE_MARKS.map((m) => (
        <ReferenceLine key={m.wl} x={m.wl} stroke={m.color} strokeWidth={1} strokeDasharray={m.dash} />
      ))}
      {SPEC.map((s) => s.values ? (
        <Line key={s.day} dataKey={'d' + s.day} name={s.day} stroke={s.color} strokeWidth={s.w} dot={false} activeDot={false} isAnimationActive={false} type="linear" />
      ) : (
        <Line key={s.day} data={blackRows} dataKey="f" name={s.day} stroke={s.color} strokeWidth={s.w} dot={false} activeDot={false} isAnimationActive={false} type="linear" />
      ))}
      <Legend layout="vertical" align="center" verticalAlign="middle" content={renderLegend}
        wrapperStyle={{ left: 622, top: 22, width: 110 }} />
    </LineChart>
  );
}

// line-identification labels, drawn in a transparent overlay chart sharing panel c's scales
function PanelCLabels() {
  return (
    <LineChart width={750} height={533} data={specRows} margin={C_MARGIN}>
      <XAxis type="number" dataKey="wl" domain={WL_DOMAIN} allowDataOverflow height={50} axisLine={false} tickLine={false} tick={false} />
      <YAxis type="number" domain={F_DOMAIN} allowDataOverflow width={70} axisLine={false} tickLine={false} tick={false} />
      <ReferenceDot x={4102} y={4.067} r={0} shape={boxLabel(<>H{it('δ')}</>, 26, '#111')} />
      <ReferenceDot x={4341} y={4.067} r={0} shape={boxLabel(<>H{it('γ')}</>, 26, '#111')} />
      <ReferenceDot x={4713} y={4.067} r={0} shape={boxLabel(<>HeII {it('λ')}4686</>, 84, '#111')} />
      <ReferenceDot x={4616} y={3.796} r={0} shape={boxLabel(<>NIII {it('λ')}4640</>, 82, '#0000ff')} />
      <ReferenceDot x={4861} y={4.067} r={0} shape={boxLabel(<>H{it('β')}</>, 26, '#111')} />
      <ReferenceDot x={5000} y={4.067} r={0} shape={boxLabel('[OIII]', 46, '#111')} />
    </LineChart>
  );
}

export default function App() {
  return (
    <div style={{ position: 'absolute', left: 0, top: 0, width: 1390, height: 533, background: '#fff', overflow: 'hidden' }}>
      <div style={{ position: 'absolute', left: 0, top: 0 }}><PanelA /></div>
      <div style={{ position: 'absolute', left: 0, top: 180 }}><PanelB /></div>
      <div style={{ position: 'absolute', left: 640, top: 0 }}><PanelC /></div>
      <div style={{ position: 'absolute', left: 640, top: 0, pointerEvents: 'none' }}><PanelCLabels /></div>
      <div style={{ position: 'absolute', left: 672, top: 30, fontFamily: SANS, fontWeight: 'bold', fontSize: 22, lineHeight: '28px', color: '#111' }}>c</div>
    </div>
  );
}
